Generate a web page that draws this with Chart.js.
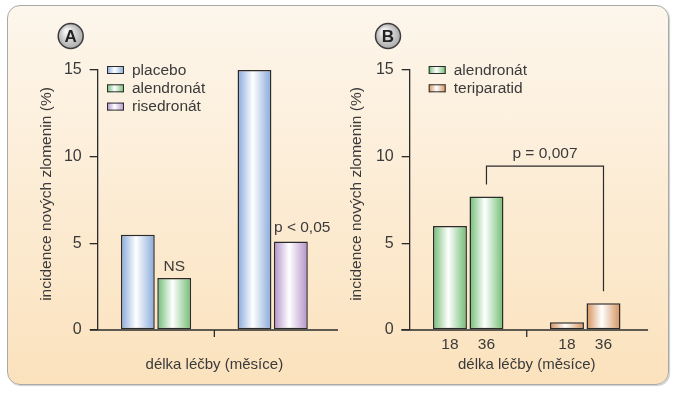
<!DOCTYPE html>
<html>
<head>
<meta charset="utf-8">
<script src="https://cdn.jsdelivr.net/npm/chart.js@4/dist/chart.umd.min.js"></script>
<style>
  html, body { margin: 0; padding: 0; background: #fff; }
  #wrap { position: relative; width: 676px; height: 395px; overflow: hidden; }
  .frame {
    position: absolute; left: 7px; top: 5px; width: 660px; height: 378px;
    border: 1px solid #a9a9a9; border-radius: 13px;
    background: linear-gradient(#fdf6ec, #fbe2bd);
    box-shadow: 1px 1px 1px rgba(0, 0, 0, 0.2);
  }
  canvas { position: absolute; top: 0; }
  #chartA { left: 0; }
  #chartB { left: 338px; }
</style>
</head>
<body>
<div id="wrap">
  <div class="frame"></div>
  <canvas id="chartA" width="338" height="395"></canvas>
  <canvas id="chartB" width="338" height="395"></canvas>
</div>
<script>
// společné
const yTicks = [0, 5, 10, 15];
const axisTitleY = 'incidence nových zlomenin (%)';
const axisTitleX = 'délka léčby (měsíce)';

// panel A
const groupsA = ['kratší léčba', 'delší léčba'];
const seriesA = ['placebo', 'alendronát', 'risedronát'];
const placeboA = [5.5, 15.0];
const alendronatA = [3.0, null];
const risedronatA = [null, 5.1];

// panel B
const groupsB = ['alendronát', 'teriparatid'];
const monthLabelsB = ['18', '36'];
const months18B = [6.0, 0.45];
const months36B = [7.7, 1.55];
const pValueB = 'p = 0,007';
const bracketLevelB = 9.45;

const INK = '#2b2b2b';
const TEXT = '#3a3a3a';
const FONT_FAMILY = '"Liberation Sans", Arial, Helvetica, sans-serif';
const FONT = '15.5px ' + FONT_FAMILY;

const BLUE = '#86a8da';
const GREEN = '#6fbc73';
const PURPLE = '#b292ca';
const ORANGE = '#d4905a';

// vodorovný přechod barva -> bílá -> barva
const shade = (ctx, x0, w, color) => {
    const g = ctx.createLinearGradient(x0, 0, x0 + w, 0);
    g.addColorStop(0, color);
    g.addColorStop(0.45, '#ffffff');
    g.addColorStop(1, color);
    return g;
};

const makeDecor = (cfg) => ({
    id: 'decor',
    beforeDatasetsDraw(chart) {
        const ctx = chart.ctx;
        chart.data.datasets.forEach((ds, di) => {
            chart.getDatasetMeta(di).data.forEach((bar, i) => {
                if (ds.data[i] === null || !isFinite(bar.x) || !isFinite(bar.width)) return;
                const edge = Array.isArray(ds.edge) ? ds.edge[i] : ds.edge;
                bar.options = Object.assign({}, bar.options, {
                    backgroundColor: shade(ctx, bar.x - bar.width / 2, bar.width, edge)
                });
            });
        });
    },
    afterDraw(chart) {
        const { ctx, chartArea: a, scales: { x } } = chart;
        const barAt = (di, i) => chart.getDatasetMeta(di).data[i];
        ctx.save();
        ctx.strokeStyle = INK;
        ctx.lineWidth = 1.3;

        // osa x + dělicí značka mezi skupinami
        ctx.beginPath();
        ctx.moveTo(a.left - cfg.axisExt[0], a.bottom);
        ctx.lineTo(a.right + cfg.axisExt[1], a.bottom);
        ctx.stroke();
        const mid = (x.getPixelForValue(0) + x.getPixelForValue(1)) / 2;
        ctx.beginPath();
        ctx.moveTo(mid, a.bottom);
        ctx.lineTo(mid, a.bottom + 7);
        ctx.stroke();

        ctx.fillStyle = TEXT;
        ctx.font = FONT;

        // popis osy y
        ctx.save();
        ctx.translate(cfg.titleX, (a.top + a.bottom) / 2 - 6);
        ctx.rotate(-Math.PI / 2);
        ctx.textAlign = 'center';
        ctx.textBaseline = 'middle';
        ctx.fillText(axisTitleY, 0, 0);
        ctx.restore();

        // legenda
        cfg.legend.forEach((item, k) => {
            const bx = a.left + cfg.legendX;
            const cy = a.top + k * 18.3;
            ctx.fillStyle = shade(ctx, bx, 17, item.color);
            ctx.fillRect(bx, cy - 4, 17, 8);
            ctx.lineWidth = 1;
            ctx.strokeRect(bx + 0.5, cy - 3.5, 16, 7);
            ctx.fillStyle = TEXT;
            ctx.textAlign = 'left';
            ctx.textBaseline = 'middle';
            ctx.fillText(item.name, bx + 25, cy + 0.5);
        });

        // kroužek s písmenem
        const b = cfg.badge;
        const rg = ctx.createRadialGradient(b.x - 4, b.y - 5, 2, b.x, b.y, 13);
        rg.addColorStop(0, '#f4f4f4');
        rg.addColorStop(1, '#a9a9a9');
        ctx.beginPath();
        ctx.arc(b.x, b.y, 12.5, 0, Math.PI * 2);
        ctx.fillStyle = rg;
        ctx.fill();
        ctx.lineWidth = 1.5;
        ctx.strokeStyle = '#3c3c3c';
        ctx.stroke();
        ctx.fillStyle = '#222';
        ctx.font = 'bold 17px ' + FONT_FAMILY;
        ctx.textAlign = 'center';
        ctx.textBaseline = 'middle';
        ctx.fillText(b.letter, b.x, b.y + 1);
        ctx.font = FONT;

        // poznámky nad sloupci
        ctx.fillStyle = TEXT;
        ctx.textBaseline = 'alphabetic';
        (cfg.notes || []).forEach(n => {
            const bar = barAt(n.ds, n.idx);
            ctx.textAlign = n.align;
            const tx = n.align === 'left' ? bar.x - bar.width / 2 : bar.x;
            ctx.fillText(n.text, tx, bar.y - n.gap);
        });

        // popisky měsíců pod sloupci
        if (cfg.monthLabels) {
            ctx.textAlign = 'center';
            ctx.textBaseline = 'middle';
            chart.data.datasets.forEach((ds, di) => {
                chart.getDatasetMeta(di).data.forEach(bar => {
                    ctx.fillText(cfg.monthLabels[di], bar.x, a.bottom + 14.5);
                });
            });
        }

        // závorka s p-hodnotou
        if (cfg.bracket) {
            const br = cfg.bracket;
            const p1 = barAt(br.from[0], br.from[1]);
            const p2 = barAt(br.to[0], br.to[1]);
            const ly = chart.scales.y.getPixelForValue(br.level);
            ctx.strokeStyle = INK;
            ctx.lineWidth = 1.2;
            ctx.beginPath();
            ctx.moveTo(p1.x, p1.y - 12);
            ctx.lineTo(p1.x, ly);
            ctx.lineTo(p2.x, ly);
            ctx.lineTo(p2.x, p2.y - 12);
            ctx.stroke();
            ctx.textAlign = 'center';
            ctx.textBaseline = 'alphabetic';
            ctx.fillText(br.text, (p1.x + p2.x) / 2, ly - 8);
        }
        ctx.restore();
    }
});

const buildChart = (canvasId, labels, datasets, yWidth, rightPad, decor) => {
    return new Chart(document.getElementById(canvasId), {
        type: 'bar',
        data: { labels: labels, datasets: datasets },
        options: {
            responsive: false,
            animation: false,
            skipNull: true,
            layout: { padding: { top: 70, right: rightPad, bottom: 0, left: 0 } },
            plugins: { legend: { display: false }, tooltip: { enabled: false } },
            scales: {
                x: {
                    type: 'category',
                    offset: true,
                    grid: { display: false },
                    border: { display: false },
                    ticks: { display: false },
                    title: {
                        display: true,
                        text: axisTitleX,
                        color: TEXT,
                        font: { family: FONT_FAMILY, size: 15 },
                        padding: { top: 0, bottom: 21 }
                    },
                    afterFit: s => { s.height = 65; }
                },
                y: {
                    min: 0,
                    max: 15,
                    afterBuildTicks: s => { s.ticks = yTicks.map(v => ({ value: v })); },
                    ticks: { color: TEXT, font: { family: FONT_FAMILY, size: 16 }, padding: 8 },
                    grid: { display: true, drawOnChartArea: false, drawTicks: true, tickLength: 8, color: INK, lineWidth: 1.3 },
                    border: { display: true, color: INK, width: 1.3 },
                    afterFit: s => { s.width = yWidth; }
                }
            }
        },
        plugins: [makeDecor(decor)]
    });
};

const barStyle = { borderColor: INK, borderWidth: 1.5, borderSkipped: false, categoryPercentage: 0.624, barPercentage: 0.93, skipNull: true };

// A: placebo vs. alendronát / risedronát
buildChart('chartA', groupsA, [
    Object.assign({ label: seriesA[0], data: placeboA, edge: BLUE, backgroundColor: BLUE }, barStyle),
    Object.assign({ label: seriesA[1], data: alendronatA, edge: GREEN, backgroundColor: GREEN }, barStyle),
    Object.assign({ label: seriesA[2], data: risedronatA, edge: PURPLE, backgroundColor: PURPLE }, barStyle)
], 97.7, 7, {
    axisExt: [7.7, 12],
    titleX: 47,
    legendX: 9.3,
    legend: [
        { name: seriesA[0], color: BLUE },
        { name: seriesA[1], color: GREEN },
        { name: seriesA[2], color: PURPLE }
    ],
    badge: { x: 70.7, y: 36, letter: 'A' },
    notes: [
        { ds: 1, idx: 0, text: 'NS', align: 'center', gap: 7 },
        { ds: 2, idx: 1, text: 'p < 0,05', align: 'left', gap: 10 }
    ]
});

// B: alendronát vs. teriparatid po 18 a 36 měsících
buildChart('chartB', groupsB, [
    Object.assign({ label: monthLabelsB[0], data: months18B, edge: [GREEN, ORANGE], backgroundColor: [GREEN, ORANGE] }, barStyle),
    Object.assign({ label: monthLabelsB[1], data: months36B, edge: [GREEN, ORANGE], backgroundColor: [GREEN, ORANGE] }, barStyle)
], 71.7, 32.25, {
    axisExt: [8.4, 4.3],
    titleX: 19,
    legendX: 19,
    legend: [
        { name: groupsB[0], color: GREEN },
        { name: groupsB[1], color: ORANGE }
    ],
    badge: { x: 50, y: 36, letter: 'B' },
    monthLabels: monthLabelsB,
    bracket: { from: [1, 0], to: [1, 1], level: bracketLevelB, text: pValueB }
});
</script>
</body>
</html>
